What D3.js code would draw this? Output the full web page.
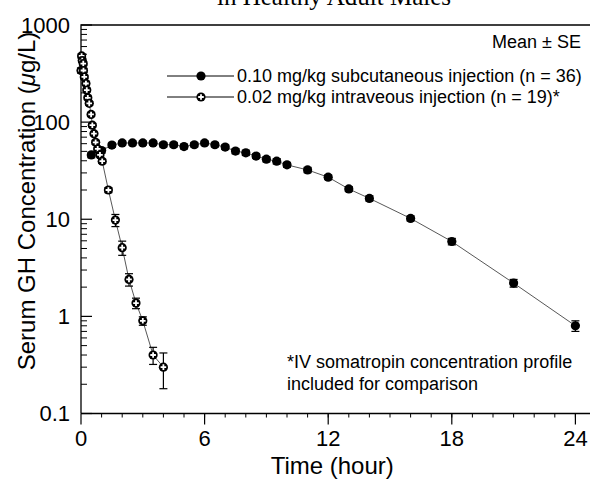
<!DOCTYPE html>
<meta charset="utf-8">
<style>
body { margin: 0; background: #fff; }
svg { display: block; }
.axis-label { font: 24px "Liberation Sans", Arial, sans-serif; fill: #000; }
.tick-label { font: 22px "Liberation Sans", Arial, sans-serif; fill: #000; }
.note { font: 18px "Liberation Sans", Arial, sans-serif; fill: #000; }
.title { font: 25px "Liberation Serif", "Times New Roman", serif; fill: #000; }
.link { fill: none; stroke: #444; stroke-width: 0.9px; }
.err { stroke: #000; stroke-width: 1.2px; }
</style>
<body>
<script src="https://d3js.org/d3.v7.min.js"></script>
<script>

// 0.10 mg/kg subcutaneous injection (n = 36)
var scTime = [0.5, 1, 1.5, 2, 2.5, 3, 3.5, 4, 4.5, 5, 5.5, 6, 6.5, 7, 7.5, 8, 8.5, 9, 9.5, 10, 11, 12, 13, 14, 16, 18, 21, 24];
var scMean = [46, 51, 58, 61, 61, 61, 61, 58.5, 58.5, 56, 58.5, 61, 58.5, 55.3, 50.3, 48.3, 44.7, 41.5, 39.6, 36.3, 32.2, 27.1, 20.5, 16.4, 10.2, 5.9, 2.2, 0.8];
var scSE   = [3, 3, 3, 3, 3, 3, 3, 3, 3, 3, 3, 3, 3, 3, 3, 3, 2.5, 2.5, 2.5, 2, 2, 1.5, 1.2, 1, 0.6, 0.45, 0.2, 0.1];

// 0.02 mg/kg intraveous injection (n = 19)
var ivTime = [0, 0.03, 0.06, 0.11, 0.12, 0.16, 0.24, 0.28, 0.33, 0.4, 0.49, 0.55, 0.63, 0.71, 0.81, 0.92, 1.03, 1.33, 1.67, 2, 2.33, 2.67, 3, 3.5, 4];
var ivMean = [340, 480, 430, 400, 340, 292, 250, 214, 178, 156, 120, 93, 76, 62, 53, 46, 39.6, 20, 9.8, 5.1, 2.4, 1.37, 0.9, 0.4, 0.3];
var ivSE   = [20, 25, 20, 20, 15, 12, 10, 9, 8, 7, 5, 4, 3, 3, 2, 2, 2, 1.2, 1.4, 0.85, 0.35, 0.17, 0.09, 0.08, 0.12];

var xTicks = [0, 6, 12, 18, 24];
var yTicks = [0.1, 1, 10, 100, 1000];
var yTickLabels = ["0.1", "1", "10", "100", "1000"];

var width = 590, height = 482;

var x = d3.scaleLinear().domain([0, 26]).range([81, 81 + 26 * 20.6]);
var y = d3.scaleLog().domain([0.1, 1000]).range([413.5, 25]);

var svg = d3.select("body").append("svg")
    .attr("width", width)
    .attr("height", height);

// title: only the bottom of its last line shows above the frame
svg.append("text")
    .attr("class", "title")
    .attr("x", 334)
    .attr("y", 5)
    .attr("text-anchor", "middle")
    .text("in Healthy Adult Males");

// frame
svg.append("path")
    .attr("d", "M" + x(0) + "," + y(0.1) + "V" + y(1000) + "H" + (width + 10))
    .attr("fill", "none")
    .attr("stroke", "#000")
    .attr("stroke-width", 1.3);
svg.append("line")
    .attr("x1", x(0)).attr("x2", width + 10)
    .attr("y1", y(0.1)).attr("y2", y(0.1))
    .attr("stroke", "#000").attr("stroke-width", 1.3);

// y ticks, pointing inward
var yMinor = [];
for (var e = -1; e < 3; e++) {
  for (var m = 2; m < 10; m++) yMinor.push(m * Math.pow(10, e));
}
svg.append("g").selectAll("line")
    .data(yMinor)
  .enter().append("line")
    .attr("x1", x(0)).attr("x2", x(0) + 6)
    .attr("y1", function(d) { return y(d); })
    .attr("y2", function(d) { return y(d); })
    .attr("stroke", "#000").attr("stroke-width", 1);
svg.append("g").selectAll("line")
    .data(yTicks)
  .enter().append("line")
    .attr("x1", x(0)).attr("x2", x(0) + 11)
    .attr("y1", function(d) { return y(d); })
    .attr("y2", function(d) { return y(d); })
    .attr("stroke", "#000").attr("stroke-width", 1.2);
svg.append("g").selectAll("text")
    .data(yTicks)
  .enter().append("text")
    .attr("class", "tick-label")
    .attr("x", 70)
    .attr("y", function(d) { return y(d); })
    .attr("dy", "0.35em")
    .attr("text-anchor", "end")
    .text(function(d, i) { return yTickLabels[i]; });

// x ticks, pointing outward
svg.append("g").selectAll("line")
    .data(d3.range(1, 26))
  .enter().append("line")
    .attr("x1", function(d) { return x(d); })
    .attr("x2", function(d) { return x(d); })
    .attr("y1", y(0.1)).attr("y2", y(0.1) + 4)
    .attr("stroke", "#000").attr("stroke-width", 1);
svg.append("g").selectAll("line")
    .data(xTicks)
  .enter().append("line")
    .attr("x1", function(d) { return x(d); })
    .attr("x2", function(d) { return x(d); })
    .attr("y1", y(0.1)).attr("y2", y(0.1) + 11)
    .attr("stroke", "#000").attr("stroke-width", 1.2);
svg.append("g").selectAll("text")
    .data(xTicks)
  .enter().append("text")
    .attr("class", "tick-label")
    .attr("x", function(d) { return x(d); })
    .attr("y", 446)
    .attr("text-anchor", "middle")
    .text(function(d) { return d; });

// axis titles
svg.append("text")
    .attr("class", "axis-label")
    .attr("x", x(12) + 4)
    .attr("y", 474)
    .attr("text-anchor", "middle")
    .text("Time (hour)");
svg.append("text")
    .attr("class", "axis-label")
    .attr("transform", "translate(35,201)rotate(-90)")
    .attr("text-anchor", "middle")
    .html("Serum GH Concentration (<tspan font-style='italic'>\u03bc</tspan>g/L)");

var line = d3.line()
    .x(function(d) { return x(d.t); })
    .y(function(d) { return y(d.v); });

function series(t, v, s) {
  return t.map(function(d, i) { return {t: d, v: v[i], se: s[i]}; });
}

var sc = series(scTime, scMean, scSE),
    iv = series(ivTime, ivMean, ivSE);

function drawErrors(data) {
  var g = svg.append("g");
  data.forEach(function(d) {
    var lo = y(Math.max(d.v - d.se, 0.11)), hi = y(d.v + d.se), cx = x(d.t);
    g.append("line").attr("class", "err").attr("x1", cx).attr("x2", cx).attr("y1", lo).attr("y2", hi);
    g.append("line").attr("class", "err").attr("x1", cx - 4).attr("x2", cx + 4).attr("y1", lo).attr("y2", lo);
    g.append("line").attr("class", "err").attr("x1", cx - 4).attr("x2", cx + 4).attr("y1", hi).attr("y2", hi);
  });
}

function filledMarker(g, cx, cy) {
  g.append("circle").attr("cx", cx).attr("cy", cy).attr("r", 4.6).attr("fill", "#000");
}

function crossMarker(g, cx, cy) {
  g.append("circle").attr("cx", cx).attr("cy", cy).attr("r", 4.6).attr("fill", "#000");
  g.append("path")
      .attr("d", "M" + (cx - 2.8) + "," + cy + "H" + (cx + 2.8) + "M" + cx + "," + (cy - 2.8) + "V" + (cy + 2.8))
      .attr("stroke", "#fff").attr("stroke-width", 1.8);
}

svg.append("path").datum(sc).attr("class", "link").attr("d", line);
svg.append("path").datum(iv).attr("class", "link").attr("d", line);
drawErrors(sc);
drawErrors(iv);

var markers = svg.append("g");
sc.forEach(function(d) { filledMarker(markers, x(d.t), y(d.v)); });
iv.forEach(function(d) { crossMarker(markers, x(d.t), y(d.v)); });

// legend
var legend = svg.append("g");
legend.append("text").attr("class", "note")
    .attr("x", 581).attr("y", 48).attr("text-anchor", "end")
    .text("Mean \u00b1 SE");
[{y: 76, label: "0.10 mg/kg subcutaneous injection (n = 36)", mark: filledMarker},
 {y: 97, label: "0.02 mg/kg intraveous injection (n = 19)*", mark: crossMarker}].forEach(function(d) {
  legend.append("line")
      .attr("x1", 167).attr("x2", 234).attr("y1", d.y).attr("y2", d.y)
      .attr("stroke", "#000").attr("stroke-width", 1);
  d.mark(legend, 201, d.y);
  legend.append("text").attr("class", "note")
      .attr("x", 237).attr("y", d.y).attr("dy", "0.35em")
      .text(d.label);
});

// footnote
svg.append("text").attr("class", "note")
    .attr("x", 287).attr("y", 368)
    .text("*IV somatropin concentration profile");
svg.append("text").attr("class", "note")
    .attr("x", 287).attr("y", 390)
    .text("included for comparison");

</script>
